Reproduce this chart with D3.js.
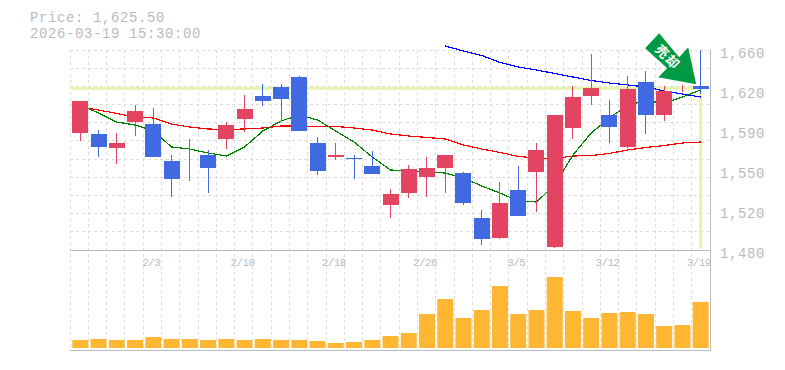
<!DOCTYPE html>
<html>
<head>
<meta charset="utf-8">
<script src="https://cdn.jsdelivr.net/npm/d3@7"></script>
<style>
  html, body { margin: 0; padding: 0; background: #fff; }
  text { font-family: "Liberation Mono", monospace; fill: #bbb; }
</style>
</head>
<body>
<div id="chart"></div>
<script>
// dates for each candle, tick labels are every fifth one
const dates = ["1/28","1/29","1/30","2/2","2/3","2/4","2/5","2/6","2/9","2/10","2/12","2/13","2/16","2/17","2/18","2/19","2/20","2/24","2/25","2/26","2/27","3/2","3/3","3/4","3/5","3/6","3/9","3/10","3/11","3/12","3/13","3/16","3/17","3/18","3/19"];
const dateTicks = ["2/3","2/10","2/18","2/26","3/5","3/12","3/19"];
const priceTicks = [1660, 1620, 1590, 1550, 1520, 1480];
// labels are rounded, they really sit every 36 yen
const priceTickPos = [1660, 1624, 1588, 1552, 1516, 1480];

const open  = [1585.3,1584.4,1571.8,1595.2,1593.4,1560.1,1564.2,1565.5,1579.9,1597.9,1618.6,1626.7,1635.7,1576.3,1563.7,1562.4,1555.6,1520.5,1531.3,1545.7,1553.8,1549.3,1508.8,1490.8,1534,1550.2,1482.7,1589.8,1618.6,1601.5,1572.7,1631.2,1601.5,1625,1627.6];
const close = [1614.1,1572.7,1576.3,1605.1,1563.7,1543.9,1565,1553.8,1592.5,1606.9,1614.1,1615.9,1587.1,1551.1,1565.5,1561.5,1548.4,1530.4,1552.9,1553.8,1565.5,1522.3,1489.9,1522.3,1510.6,1570,1601.5,1617.7,1625.8,1590.7,1624.9,1601.5,1623.1,1625,1625];
const high  = [1614.1,1588,1585.3,1610.5,1607.8,1565.5,1579.9,1570,1595.2,1619.5,1629.4,1629.4,1636.6,1581.7,1576.3,1565.5,1569.1,1534.9,1556.5,1563.7,1565.5,1550.2,1516,1541.2,1555.6,1576.3,1601.5,1627.6,1656.4,1615,1636.6,1641.1,1627.6,1628.5,1660];
const low   = [1578.1,1563.7,1557.4,1582.9,1563.7,1527.7,1542.1,1531.3,1570.9,1586.2,1609.6,1597,1587.1,1547.5,1561,1543.9,1548.4,1508.8,1526.8,1527.7,1531.3,1520.5,1484.5,1489.9,1510.6,1514.2,1481.8,1579.9,1610.5,1576.3,1571.8,1584.4,1596.1,1622.2,1620.4];
const ma5   = [1610.5,1603.3,1595.2,1592.5,1587.1,1572.7,1570.9,1567.3,1564.6,1572.7,1587.1,1596.1,1601.5,1597,1587.1,1577.2,1563.7,1552,1551.1,1550.2,1549.3,1544.8,1537.6,1531.3,1524.1,1523.2,1538.5,1565.5,1585.3,1598.8,1610.5,1614.1,1612.3,1617.7,1624];
const ma25  = [1608.7,1606,1602.9,1599.7,1598.8,1593.4,1590.7,1588.9,1588.5,1588.9,1589.8,1591.6,1591.6,1591.2,1591.2,1589.8,1588,1584.4,1582.6,1581.3,1579.9,1574.5,1570.9,1567.8,1564.2,1562.8,1562.4,1564.6,1565,1566.9,1570,1572.3,1574,1576.3,1577.2];
const ma75  = [null,null,null,null,null,null,null,null,null,null,null,null,null,null,null,null,null,null,null,null,1663.6,1659.1,1655.1,1648.8,1644.7,1642,1638.9,1635.7,1632.6,1630.3,1628.5,1626.7,1623.1,1620.4,1617.7];
const volume = [160,180,160,160,220,180,180,160,180,160,180,160,160,140,100,120,160,240,300,680,980,600,760,1240,680,760,1420,740,600,700,720,680,440,460,920];
const lastPrice = 1625.5;
const priceLabel = "Price: 1,625.50";
const timeLabel = "2026-03-19 15:30:00";
const signalLabel = "売却";

const width = 785, height = 370;
const plotLeft = 70, plotRight = 710, plotTop = 50, plotMid = 250, plotBottom = 350;
const upColor = "#e24462", downColor = "#4169e1";

const svg = d3.select("#chart").append("svg")
    .attr("width", width)
    .attr("height", height)
    .style("display", "block");

// candle centres do not quite fill the plot, the grid does
const xGrid = d3.scaleLinear().domain([0, dates.length]).range([plotLeft, plotRight]);
const x = d3.scaleBand().domain(dates).range([71.2, 709.8]);
const bw = 16;
const cx = d => x(d) + x.bandwidth() / 2;
// wicks sit on a whole pixel
const wickX = d => Math.floor(cx(d)) + 0.5;

const y = d3.scaleLinear().domain([1480, 1660]).range([plotMid, plotTop]);
const yVol = d3.scaleLinear().domain([0, 1960]).range([348, 250]);

// grid
const grid = svg.append("g")
    .attr("stroke", "#ddd")
    .attr("stroke-dasharray", "3,3")
    .attr("shape-rendering", "crispEdges");
grid.selectAll(".v").data(d3.range(dates.length + 1)).join("line")
    .attr("class", "v")
    .attr("x1", d => xGrid(d)).attr("x2", d => xGrid(d))
    .attr("y1", plotTop).attr("y2", plotBottom);
grid.selectAll(".h").data(d3.range(0, 11)).join("line")
    .attr("class", "h")
    .attr("x1", plotLeft).attr("x2", plotRight)
    .attr("y1", d => plotTop + d * (plotMid - plotTop) / 11)
    .attr("y2", d => plotTop + d * (plotMid - plotTop) / 11);

// frame
const frame = svg.append("g").attr("stroke", "#bbb").attr("shape-rendering", "crispEdges");
frame.append("line").attr("x1", plotLeft).attr("x2", plotRight + 1).attr("y1", plotMid).attr("y2", plotMid);
frame.append("line").attr("x1", plotLeft).attr("x2", plotRight + 1).attr("y1", plotBottom).attr("y2", plotBottom);
frame.append("line").attr("x1", plotRight).attr("x2", plotRight).attr("y1", plotTop).attr("y2", plotBottom);

// last price cross
const lastX = cx(dates[dates.length - 1]);
svg.append("line")
    .attr("x1", plotLeft).attr("x2", lastX + 1.5)
    .attr("y1", y(lastPrice)).attr("y2", y(lastPrice))
    .attr("stroke", "#e4f3ad").attr("stroke-width", 3);
svg.append("line")
    .attr("x1", lastX).attr("x2", lastX)
    .attr("y1", y(lastPrice)).attr("y2", 248.5)
    .attr("stroke", "#e4f3ad").attr("stroke-width", 3);

// moving averages
const line = d3.line()
    .defined(d => d[1] !== null)
    .x(d => cx(d[0]))
    .y(d => y(d[1]));
[[ma75, "#0000ff"], [ma25, "#ff0000"], [ma5, "#008000"]].forEach(function(s) {
  svg.append("path")
      .attr("d", line(dates.map((d, i) => [d, s[0][i]])))
      .attr("fill", "none")
      .attr("stroke", s[1])
      .attr("stroke-width", 1.2)
      .attr("shape-rendering", "crispEdges");
});

// candles
const candles = svg.append("g").selectAll("g").data(dates).join("g")
    .attr("fill", (d, i) => close[i] >= open[i] ? upColor : downColor)
    .attr("stroke", (d, i) => close[i] >= open[i] ? upColor : downColor)
    .attr("shape-rendering", "crispEdges");
candles.append("line")
    .attr("x1", d => wickX(d)).attr("x2", d => wickX(d))
    .attr("y1", (d, i) => y(high[i]))
    .attr("y2", (d, i) => y(low[i]))
    .attr("stroke-width", 1);
candles.append("rect")
    .attr("x", d => cx(d) - bw / 2)
    .attr("width", bw)
    .attr("y", (d, i) => y(Math.max(open[i], close[i])))
    .attr("height", (d, i) => Math.abs(y(open[i]) - y(close[i])))
    .attr("stroke", "none");

// volume
svg.append("g").selectAll("rect").data(dates).join("rect")
    .attr("x", d => cx(d) - bw / 2)
    .attr("width", bw)
    .attr("y", (d, i) => yVol(volume[i]))
    .attr("height", (d, i) => yVol(0) - yVol(volume[i]))
    .attr("fill", "#ffb733");

// signal arrow, tip points at the last candle
const arrow = svg.append("g").attr("transform", `translate(${lastX},${y(lastPrice)})`);
arrow.append("path")
    .attr("d", "M-41.5,-55 L-55.5,-40 L-33.5,-20 L-42.5,-11 L-4.5,-4 L-12.5,-41 L-21.5,-31 Z")
    .attr("fill", "#009944");
arrow.append("text")
    .attr("transform", "translate(-33,-31) rotate(45)")
    .attr("text-anchor", "middle")
    .attr("dy", "0.35em")
    .attr("font-size", 13)
    .attr("letter-spacing", 1.5)
    .style("font-family", '"Noto Sans CJK JP"')
    .style("font-weight", "bold")
    .style("fill", "#fff")
    .text(signalLabel);

// 14px with a little tracking gives the 9px advance of the reference
svg.append("text").attr("x", 30).attr("y", 21.5)
    .attr("font-size", 14).attr("letter-spacing", 0.6).text(priceLabel);
svg.append("text").attr("x", 30).attr("y", 37.5)
    .attr("font-size", 14).attr("letter-spacing", 0.6).text(timeLabel);

svg.append("g").selectAll("text").data(priceTicks).join("text")
    .attr("x", 720)
    .attr("y", (d, i) => y(priceTickPos[i]) + 8)
    .attr("font-size", 14)
    .attr("letter-spacing", 0.6)
    .text(d => d3.format(",")(d));

svg.append("g").selectAll("text").data(dateTicks).join("text")
    .attr("x", d => cx(d) - 2)
    .attr("y", 266)
    .attr("text-anchor", "middle")
    .attr("font-size", 11)
    .attr("letter-spacing", -0.6)
    .text(d => d);
</script>
</body>
</html>
